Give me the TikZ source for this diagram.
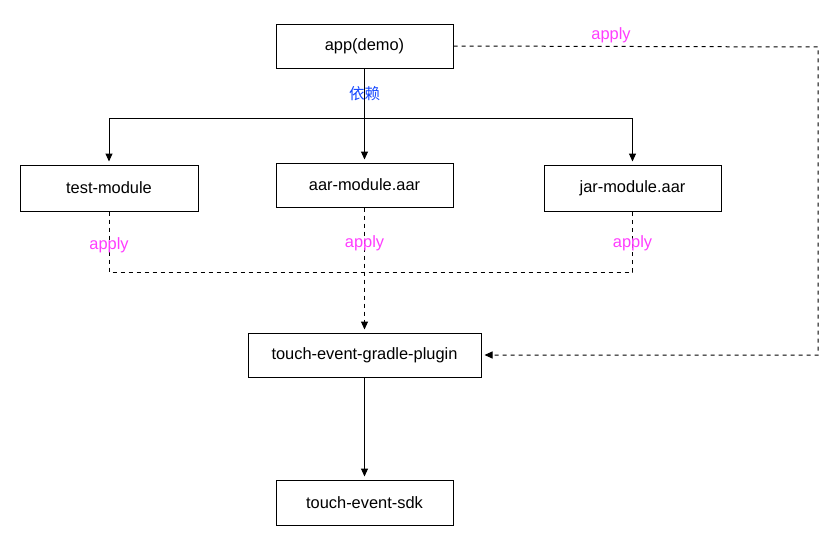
\documentclass[tikz,border=0pt]{standalone}
\usepackage{fontspec}
\setmainfont{Liberation Sans}
\newfontfamily\cjk{Noto Sans CJK SC}
\usetikzlibrary{arrows.meta}

\definecolor{applypink}{RGB}{255,60,255}
\definecolor{depblue}{RGB}{20,70,255}

\tikzset{
    module/.style={draw, line width=1pt, minimum width=177pt, minimum height=44pt, inner sep=0pt, font=\fontsize{16.4}{19}\selectfont},
    dep/.style={line width=1pt, -{Triangle[length=8pt,width=7pt]}, shorten >=3pt},
    applyline/.style={line width=1pt, dash pattern=on 4pt off 4pt},
    applylabel/.style={text=applypink, font=\fontsize{16.4}{19}\selectfont, inner sep=0pt},
}

\begin{document}
\begin{tikzpicture}[x=1pt, y=-1pt]
    \useasboundingbox (0,0) rectangle (835,546);

    % Modules
    \node[module] (app) at (364.5,46) {app(demo)};
    \node[module, minimum width=178pt, minimum height=46pt] (test) at (109,188) {test-module};
    \node[module] (aar) at (364.5,185) {aar-module.aar};
    \node[module, minimum height=46pt] (jar) at (632.5,188) {jar-module.aar};
    \node[module, minimum width=233pt] (plugin) at (364.5,355) {touch-event-gradle-plugin};
    \node[module, minimum height=45pt] (sdk) at (364.5,502.5) {touch-event-sdk};

    % Helper points
    \coordinate (split) at (364.5,118);
    \coordinate (joinl) at (109,272);
    \coordinate (joinr) at (632.5,272);
    \coordinate (outne) at (818,47);
    \coordinate (outse) at (818,355);

    % Dependencies
    \draw[line width=1pt] (app) -- node[text=depblue, font=\cjk\fontsize{15.5}{18}\selectfont, inner sep=0pt] (deplabel) {依赖} (split);
    \draw[dep] (split) -| (test);
    \draw[dep] (split) -- (aar);
    \draw[dep] (split) -| (jar);
    \draw[dep] (plugin) -- (sdk);

    % Plugin applies
    \draw[applyline] (test) -- node[applylabel, pos=0.56] (applytest) {apply} (joinl) -- (joinr) -- node[applylabel, pos=0.47] (applyjar) {apply} (jar);
    \draw[applyline, dep] (aar) -- node[applylabel, pos=0.285] (applyaar) {apply} (plugin);
    \draw[applyline, dep] (app.east) -- (outne) -- (outse) -- (plugin);
    \node[applylabel] (applyapp) at (611,35) {apply};
\end{tikzpicture}
\end{document}
